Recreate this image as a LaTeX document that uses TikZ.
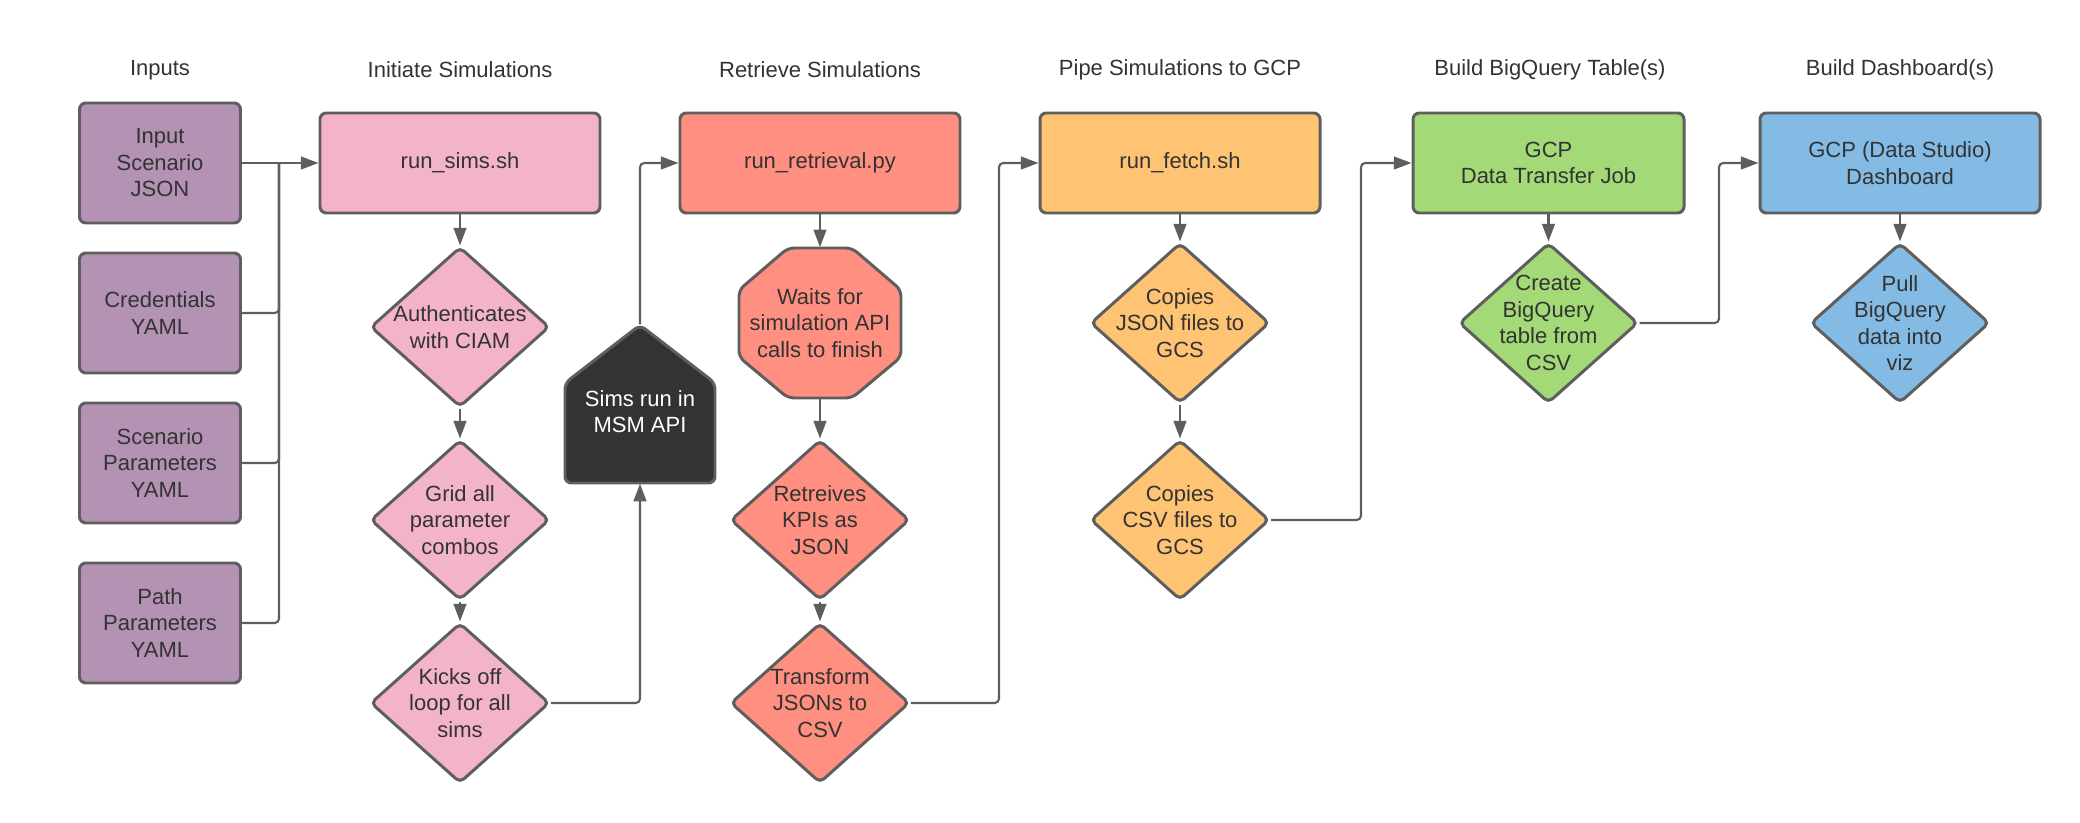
\documentclass[tikz,border=0pt]{standalone}
\usepackage{fontspec}
\setmainfont{Liberation Sans}
\usepackage{tikz}
\usetikzlibrary{arrows.meta,positioning}
\usetikzlibrary{shapes.geometric}

\definecolor{edgegray}{HTML}{5E5E5E}
\definecolor{txtgray}{HTML}{333333}
\definecolor{inpurple}{HTML}{B392B4}
\definecolor{simpink}{HTML}{F4B4C7}
\definecolor{retsalmon}{HTML}{FF8F80}
\definecolor{pipeorange}{HTML}{FFC374}
\definecolor{bqgreen}{HTML}{A3D977}
\definecolor{dashblue}{HTML}{83BBE5}
\definecolor{msmdark}{HTML}{333333}

\newcommand{\chartfont}{\fontsize{6.26pt}{7.55pt}\selectfont}

\begin{document}
\begin{tikzpicture}[
    >={Triangle[length=5pt,width=3.6pt]},
    every node/.style={font=\chartfont, text=txtgray},
    box/.style={draw=edgegray, line width=0.85pt, rounded corners=1.8pt, align=center, inner sep=0pt},
    inbox/.style={box, fill=inpurple, minimum width=1.61cm, minimum height=1.20cm},
    stepbox/.style={box, minimum width=2.80cm, minimum height=1.00cm},
    dia/.style={diamond, draw=edgegray, line width=0.85pt, rounded corners=1.5pt, inner sep=0pt, minimum width=1.79cm, minimum height=1.60cm},
    dtext/.style={align=center, inner sep=0pt},
    link/.style={draw=edgegray, line width=0.6pt, rounded corners=1.2pt},
  ]
        \useasboundingbox (0,0) rectangle (20.80,-8.23);

        % Column titles
        \node (tInputs) at (1.60,-0.70) {Inputs};
        \node (tInit) at (4.60,-0.70) {Initiate Simulations};
        \node (tRetr) at (8.20,-0.70) {Retrieve Simulations};
        \node (tPipe) at (11.80,-0.70) {Pipe Simulations to GCP};
        \node (tTable) at (15.50,-0.70) {Build BigQuery Table(s)};
        \node (tDash) at (19.00,-0.70) {Build Dashboard(s)};

        % Inputs
        \node[inbox] (inJson) at (1.60,-1.63) {Input\\Scenario\\JSON};
        \node[inbox] (inCred) at (1.60,-3.13) {Credentials\\YAML};
        \node[inbox] (inScen) at (1.60,-4.63) {Scenario\\Parameters\\YAML};
        \node[inbox] (inPath) at (1.60,-6.23) {Path\\Parameters\\YAML};

        % Initiate simulations
        \node[stepbox, fill=simpink] (runSims) at (4.60,-1.63) {run\_sims.sh};
        \node[dia, fill=simpink, label={[dtext]center:{Authenticates\\with CIAM}}] (auth) at (4.60,-3.27) {};
        \node[dia, fill=simpink, label={[dtext]center:{Grid all\\parameter\\combos}}] (grid) at (4.60,-5.20) {};
        \node[dia, fill=simpink, label={[dtext]center:{Kicks off\\loop for all\\sims}}] (kicks) at (4.60,-7.03) {};

        % Sims run in MSM API
        \filldraw[fill=msmdark, draw=edgegray, line width=0.85pt, rounded corners=1.8pt]
            (5.65,-4.83) -- (5.65,-3.83) -- (6.40,-3.25) -- (7.15,-3.83) -- (7.15,-4.83) -- cycle;
        \node[minimum width=1.50cm, minimum height=1.58cm, inner sep=0pt,
              label={[dtext, text=white, yshift=-0.075cm]center:{Sims run in\\MSM API}}] (msm) at (6.40,-4.04) {};

        % Retrieve simulations
        \node[stepbox, fill=retsalmon] (runRetr) at (8.20,-1.63) {run\_retrieval.py};
        \filldraw[fill=retsalmon, draw=edgegray, line width=0.85pt, rounded corners=1.8pt]
            (7.88,-2.48) -- (8.52,-2.48) -- (9.01,-2.90) -- (9.01,-3.57) -- (8.52,-3.98)
            -- (7.88,-3.98) -- (7.39,-3.57) -- (7.39,-2.90) -- cycle;
        \node[minimum width=1.62cm, minimum height=1.50cm, inner sep=0pt, align=center] (waits) at (8.20,-3.23) {Waits for\\simulation API\\calls to finish};
        \node[dia, fill=retsalmon, label={[dtext]center:{Retreives\\KPIs as\\JSON}}] (kpis) at (8.20,-5.20) {};
        \node[dia, fill=retsalmon, label={[dtext]center:{Transform\\JSONs to\\CSV}}] (transf) at (8.20,-7.03) {};

        % Pipe to GCP
        \node[stepbox, fill=pipeorange] (runFetch) at (11.80,-1.63) {run\_fetch.sh};
        \node[dia, fill=pipeorange, label={[dtext]center:{Copies\\JSON files to\\GCS}}] (cpJson) at (11.80,-3.23) {};
        \node[dia, fill=pipeorange, label={[dtext]center:{Copies\\CSV files to\\GCS}}] (cpCsv) at (11.80,-5.20) {};

        % BigQuery
        \node[stepbox, fill=bqgreen, minimum width=2.71cm] (gcpJob) at (15.485,-1.63) {GCP\\Data Transfer Job};
        \node[dia, fill=bqgreen, label={[dtext]center:{Create\\BigQuery\\table from\\CSV}}] (mkTable) at (15.485,-3.23) {};

        % Dashboard
        \node[stepbox, fill=dashblue] (gcpDash) at (19.00,-1.63) {GCP (Data Studio)\\Dashboard};
        \node[dia, fill=dashblue, label={[dtext]center:{Pull\\BigQuery\\data into\\viz}}] (pull) at (19.00,-3.23) {};

        % Connectors
        \coordinate (busIn) at (2.79,-1.63);
        \coordinate (busRetr) at (9.99,-1.63);
        \coordinate (busFetch) at (13.61,-1.63);
        \coordinate (busJob) at (17.19,-1.63);

        \draw[link,->] (inJson) -- (runSims);
        \foreach \src in {inCred,inScen,inPath}
            \draw[link] (\src.east) -| (busIn);

        \foreach \a/\b in {runSims/auth, auth/grid, grid/kicks, runRetr/waits, waits/kpis, kpis/transf,
                           runFetch/cpJson, cpJson/cpCsv, gcpJob/mkTable, gcpDash/pull}
            \draw[link,->] (\a) -- (\b);

        \draw[link,->] (kicks.east) -| (msm.south);
        \draw[link,->] (msm.north) |- (runRetr.west);
        \draw[link,->] (transf.east) -| (busRetr) -- (runFetch.west);
        \draw[link,->] (cpCsv.east) -| (busFetch) -- (gcpJob.west);
        \draw[link,->] (mkTable.east) -| (busJob) -- (gcpDash.west);
\end{tikzpicture}
\end{document}
